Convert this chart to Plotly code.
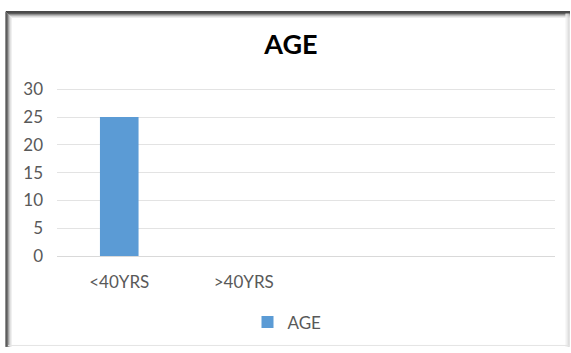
import plotly.graph_objects as go

categories = ["<40YRS", ">40YRS"]
values = [25, 0]
series_name = "AGE"
title_text = "AGE"
y_ticks = [0, 5, 10, 15, 20, 25, 30]

W, H = 571, 353
Y0_PX, Y30_PX = 260, 89.5
YTOP = 30.6
unit = (Y0_PX - Y30_PX) / 30.0
L, R, B = 57, 16, H - Y0_PX
T = Y0_PX - YTOP * unit
pw, ph = W - L - R, H - T - B

def px(x):
    return (x - L) / pw

def py(y):
    return (H - B - y) / ph

fig = go.Figure()
fig.add_trace(go.Bar(
    x=categories, y=values, name=series_name,
    marker=dict(color="#5b9bd5", line=dict(width=0)),
    width=0.31, showlegend=True,
))

shapes = []
for i, c in enumerate(["#333333", "#3c3c3c", "#555555", "#8a8a8a", "#b5b5b5", "#d8d8d8", "#ececec"]):
    shapes.append(dict(type="line", xref="paper", yref="paper",
                       x0=px(6 + i), x1=px(570), y0=py(10 + i), y1=py(10 + i),
                       line=dict(color=c, width=1)))
for i, c in enumerate(["#1e1e1e", "#2a2a2a", "#555555", "#9a9a9a", "#c4c4c4", "#e2e2e2"]):
    shapes.append(dict(type="line", xref="paper", yref="paper",
                       x0=px(6 + i), x1=px(6 + i), y0=py(10 + i), y1=py(353),
                       line=dict(color=c, width=1)))
for i, c in enumerate(["#c8c8c8", "#d8d8d8", "#e6e6e6", "#f0f0f0"]):
    shapes.append(dict(type="line", xref="paper", yref="paper",
                       x0=px(569 - i), x1=px(569 - i), y0=py(12), y1=py(353),
                       line=dict(color=c, width=1)))
shapes.append(dict(type="line", xref="paper", yref="paper",
                   x0=px(8), x1=px(570), y0=py(351.5), y1=py(351.5),
                   line=dict(color="#e4e4e4", width=1)))

font_family = "Lato, 'Open Sans', sans-serif"

fig.update_layout(
    width=W, height=H,
    margin=dict(l=L, r=R, t=T, b=B),
    paper_bgcolor="white", plot_bgcolor="white",
    font=dict(family=font_family, size=17, color="#595959"),
    title=dict(text="<b>" + title_text + "</b>", x=291 / W, xanchor="center",
               y=1 - 45 / H, yanchor="middle",
               font=dict(family=font_family, size=27, color="#000000")),
    xaxis=dict(type="category", range=[-0.5, 3.5], showgrid=False,
               showline=True, linecolor="#d9d9d9", linewidth=1,
               ticks="", ticklabelstandoff=11, tickfont=dict(size=17, color="#595959"),
               fixedrange=True),
    yaxis=dict(range=[0, YTOP], tickvals=y_ticks, showgrid=True, gridcolor="#e3e3e3",
               gridwidth=1, zeroline=False, showline=False, ticks="",
               ticklabelstandoff=13, tickfont=dict(size=17, color="#595959"),
               fixedrange=True),
    legend=dict(orientation="h", x=px(287), xanchor="center", y=py(328), yanchor="middle",
                font=dict(size=17, color="#595959"), itemwidth=30),
    shapes=shapes,
    bargap=0.69,
)

fig.write_html("out.html")
